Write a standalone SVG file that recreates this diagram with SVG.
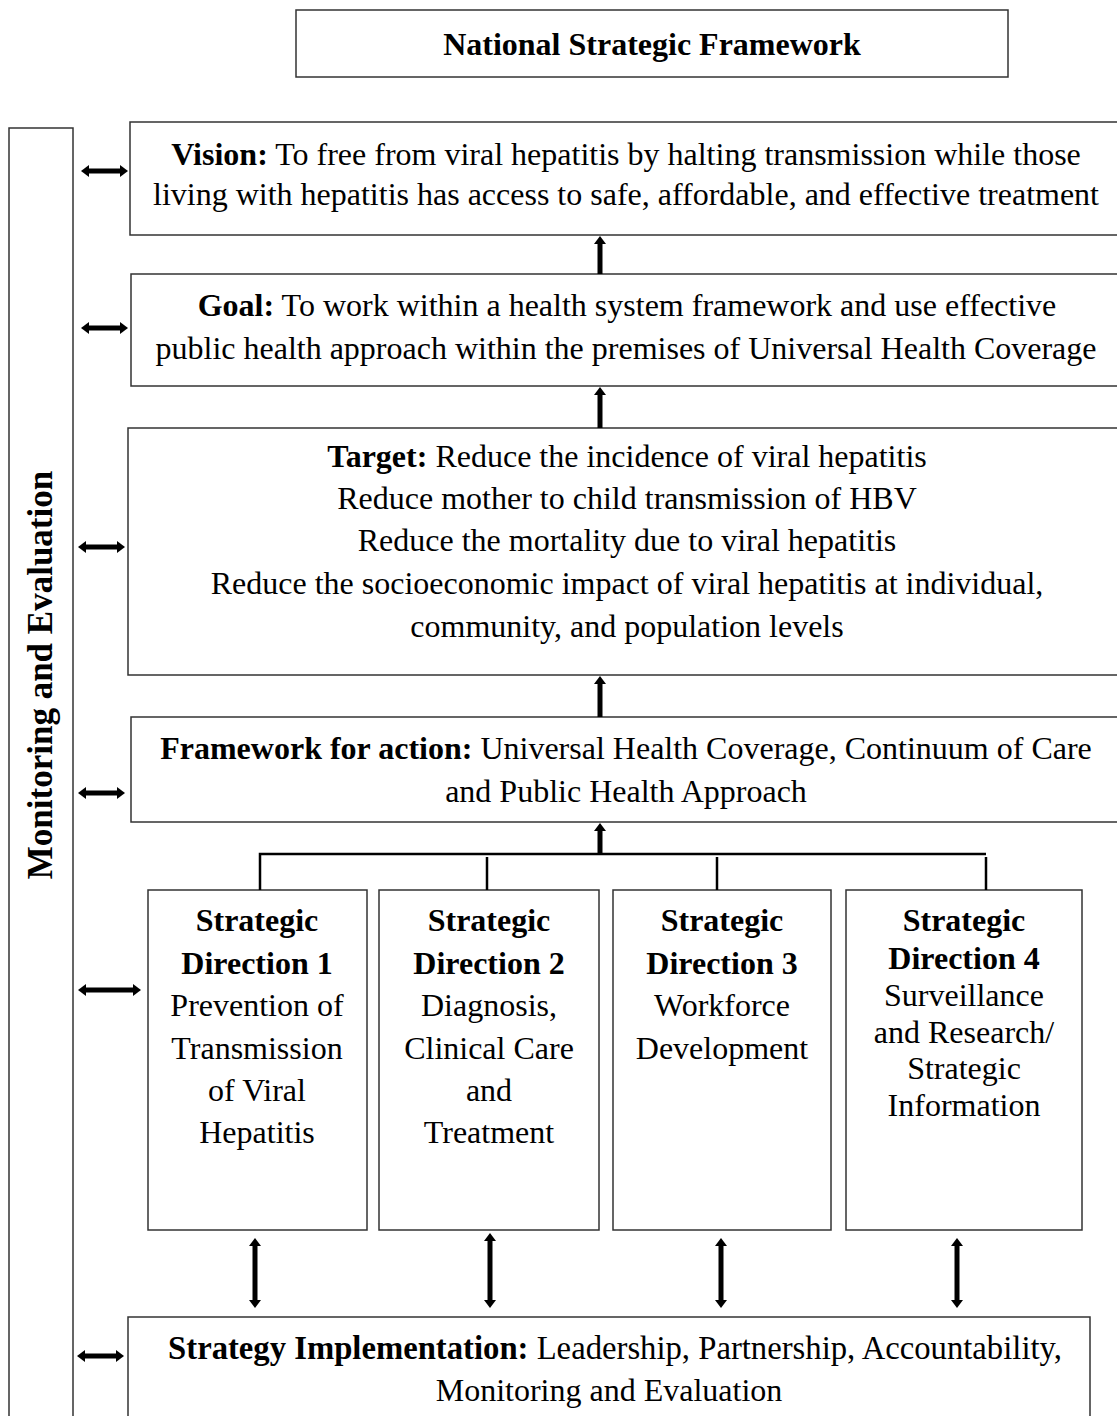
<svg xmlns="http://www.w3.org/2000/svg" width="1117" height="1416" viewBox="0 0 1117 1416">
<defs>
<style>
.box{fill:#fff;stroke:#333;stroke-width:1.5}
.t{font-family:"Liberation Serif","Times New Roman",serif;font-size:32px;fill:#000;text-anchor:middle}
.b{font-weight:bold}
.arr{stroke:#000;stroke-width:5;fill:none}
.ln{stroke:#000;stroke-width:2.5;fill:none}
</style>
<marker id="ah" viewBox="0 0 8 12" markerWidth="8" markerHeight="12" refX="4" refY="6" orient="auto-start-reverse" markerUnits="userSpaceOnUse">
<path d="M0,0 L8,6 L0,12 z" fill="#000"/>
</marker>
</defs>
<rect width="1117" height="1416" fill="#fff"/>

<g id="title">
<rect class="box" x="296" y="10" width="712" height="67"/>
<text class="t b" x="652" y="55">National Strategic Framework</text>
</g>

<g id="monitoring">
<rect class="box" x="9" y="128" width="64" height="1300"/>
<text class="t b" transform="translate(52,675) rotate(-90)" style="font-size:35px">Monitoring and Evaluation</text>
</g>

<g id="vision">
<rect class="box" x="130" y="122" width="1000" height="113"/>
<text class="t" x="626" y="165"><tspan class="b">Vision:</tspan> To free from viral hepatitis by halting transmission while those</text>
<text class="t" x="626" y="205">living with hepatitis has access to safe, affordable, and effective treatment</text>
</g>

<g id="goal">
<rect class="box" x="131" y="274" width="1000" height="112"/>
<text class="t" x="627" y="316"><tspan class="b">Goal:</tspan> To work within a health system framework and use effective</text>
<text class="t" x="626" y="359">public health approach within the premises of Universal Health Coverage</text>
</g>

<g id="target">
<rect class="box" x="128" y="428" width="1000" height="247"/>
<text class="t" x="627" y="467"><tspan class="b">Target:</tspan> Reduce the incidence of viral hepatitis</text>
<text class="t" x="627" y="509">Reduce mother to child transmission of HBV</text>
<text class="t" x="627" y="551">Reduce the mortality due to viral hepatitis</text>
<text class="t" x="627" y="594">Reduce the socioeconomic impact of viral hepatitis at individual,</text>
<text class="t" x="627" y="637">community, and population levels</text>
</g>

<g id="framework">
<rect class="box" x="131" y="717" width="1000" height="105"/>
<text class="t" x="626" y="759"><tspan class="b">Framework for action:</tspan> Universal Health Coverage, Continuum of Care</text>
<text class="t" x="626" y="802">and Public Health Approach</text>
</g>

<g id="sd1">
<rect class="box" x="148" y="890" width="219" height="340"/>
<text class="t b" x="257" y="931">Strategic</text>
<text class="t b" x="257" y="974">Direction 1</text>
<text class="t" x="257" y="1016">Prevention of</text>
<text class="t" x="257" y="1059">Transmission</text>
<text class="t" x="257" y="1101">of Viral</text>
<text class="t" x="257" y="1143">Hepatitis</text>
</g>

<g id="sd2">
<rect class="box" x="379" y="890" width="220" height="340"/>
<text class="t b" x="489" y="931">Strategic</text>
<text class="t b" x="489" y="974">Direction 2</text>
<text class="t" x="489" y="1016">Diagnosis,</text>
<text class="t" x="489" y="1059">Clinical Care</text>
<text class="t" x="489" y="1101">and</text>
<text class="t" x="489" y="1143">Treatment</text>
</g>

<g id="sd3">
<rect class="box" x="613" y="890" width="218" height="340"/>
<text class="t b" x="722" y="931">Strategic</text>
<text class="t b" x="722" y="974">Direction 3</text>
<text class="t" x="722" y="1016">Workforce</text>
<text class="t" x="722" y="1059">Development</text>
</g>

<g id="sd4">
<rect class="box" x="846" y="890" width="236" height="340"/>
<text class="t b" x="964" y="931">Strategic</text>
<text class="t b" x="964" y="969">Direction 4</text>
<text class="t" x="964" y="1006">Surveillance</text>
<text class="t" x="964" y="1043">and Research/</text>
<text class="t" x="964" y="1079">Strategic</text>
<text class="t" x="964" y="1116">Information</text>
</g>

<g id="implementation">
<rect class="box" x="128" y="1317" width="962" height="120"/>
<text class="t" x="615" y="1359" style="font-size:32.7px"><tspan class="b">Strategy Implementation:</tspan> Leadership, Partnership, Accountability,</text>
<text class="t" x="609" y="1401">Monitoring and Evaluation</text>
</g>

<g id="connectors">
<line class="arr" x1="85" y1="171" x2="124" y2="171" marker-start="url(#ah)" marker-end="url(#ah)"/>
<line class="arr" x1="85" y1="328" x2="124" y2="328" marker-start="url(#ah)" marker-end="url(#ah)"/>
<line class="arr" x1="82" y1="547" x2="121" y2="547" marker-start="url(#ah)" marker-end="url(#ah)"/>
<line class="arr" x1="82" y1="793" x2="121" y2="793" marker-start="url(#ah)" marker-end="url(#ah)"/>
<line class="arr" x1="82" y1="990" x2="137" y2="990" marker-start="url(#ah)" marker-end="url(#ah)"/>
<line class="arr" x1="81" y1="1356" x2="120" y2="1356" marker-start="url(#ah)" marker-end="url(#ah)"/>

<line class="arr" x1="600" y1="274" x2="600" y2="240" marker-end="url(#ah)"/>
<line class="arr" x1="600" y1="428" x2="600" y2="391" marker-end="url(#ah)"/>
<line class="arr" x1="600" y1="717" x2="600" y2="680" marker-end="url(#ah)"/>
<line class="arr" x1="600" y1="855" x2="600" y2="827" marker-end="url(#ah)"/>

<polyline class="ln" points="260,890 260,854 986,854"/>
<line class="ln" x1="487" y1="857" x2="487" y2="890"/>
<line class="ln" x1="717" y1="857" x2="717" y2="890"/>
<line class="ln" x1="986" y1="857" x2="986" y2="890"/>

<line class="arr" x1="255" y1="1242" x2="255" y2="1304" marker-start="url(#ah)" marker-end="url(#ah)"/>
<line class="arr" x1="490" y1="1237" x2="490" y2="1304" marker-start="url(#ah)" marker-end="url(#ah)"/>
<line class="arr" x1="721" y1="1242" x2="721" y2="1304" marker-start="url(#ah)" marker-end="url(#ah)"/>
<line class="arr" x1="957" y1="1242" x2="957" y2="1304" marker-start="url(#ah)" marker-end="url(#ah)"/>
</g>
</svg>
